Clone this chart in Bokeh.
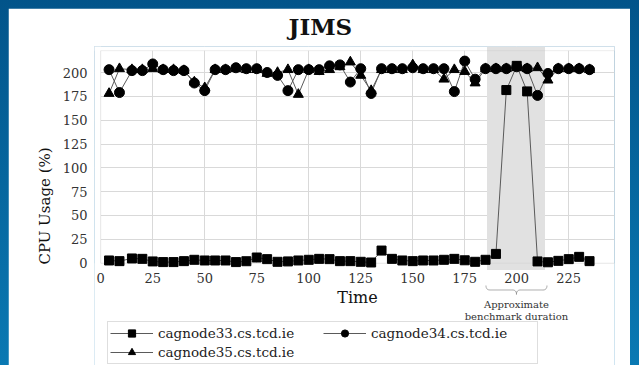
from bokeh.plotting import figure
from bokeh.models import (BoxAnnotation, Legend, LegendItem, Label, PolyAnnotation,
                          Range1d, FixedTicker, LinearAxis, Grid)
from bokeh.embed import file_html
from bokeh.resources import INLINE

# ---------------- data ----------------
time = [4, 9, 15, 20, 25, 30, 35, 40, 45, 50,
        55, 60, 65, 70, 75, 80, 85, 90, 95, 100,
        105, 110, 115, 120, 125, 130, 135, 140, 145, 150,
        155, 160, 165, 170, 175, 180, 185, 190, 195, 200,
        205, 210, 215, 220, 225, 230, 235]

cagnode33 = [2.8, 2.1, 4.9, 4.5, 1.8, 1.1, 1.1, 2.1, 3.5, 2.8,
             2.8, 2.8, 1.1, 2.0, 5.9, 4.2, 1.4, 1.8, 2.8, 3.5,
             4.5, 4.2, 2.1, 2.1, 1.4, 0.7, 13.2, 4.5, 2.8, 2.1,
             2.8, 2.8, 3.5, 4.5, 3.0, 1.4, 3.5, 9.7, 181.6, 207,
             180.2, 1.8, 0.9, 2.4, 4.2, 6.6, 2.1]

cagnode34 = [203, 179, 202, 202, 209, 203, 202, 202, 189, 181,
             203, 203, 205, 204, 204, 200, 197, 181, 203, 203,
             203, 207, 208, 190, 204, 178, 204, 204, 204, 205,
             204, 204, 204, 180, 212, 193, 204, 204, 204, 206,
             204, 176, 199, 204, 204, 204, 203]

cagnode35 = [178, 204, 203, 203, 204, 203, 203, 202, 190, 184,
             203, 203, 204, 203, 203, 199, 200, 203, 177, 203,
             201, 203, 206, 211, 197, 181, 203, 203, 203, 208,
             203, 203, 193, 203, 201, 189, 204, 204, 204, 205,
             204, 205, 192, 204, 204, 204, 203]

series_names = ["cagnode33.cs.tcd.ie", "cagnode34.cs.tcd.ie", "cagnode35.cs.tcd.ie"]
x_ticks = [0, 25, 50, 75, 100, 125, 150, 175, 200, 225]
y_ticks = [0, 25, 50, 75, 100, 125, 150, 175, 200]
benchmark_start = 185.7
benchmark_end = 213.6
annotation_lines = ["Approximate", "benchmark duration"]
chart_title = "JIMS"

# ---------------- figure ----------------
FONT = "DejaVu Serif"
X_MIN, X_MAX = -3.0, 247.0
Y_TOP = 222.9      # top edge of the drawn plot box
PX_X = 2.08        # pixels per time unit
PX_Y = 0.962       # pixels per CPU unit

p = figure(width=622, height=357, output_backend="svg", toolbar_location=None,
           x_range=Range1d(X_MIN, X_MAX), y_range=Range1d(-107.4, 227.3),
           x_axis_location=None,
           min_border_left=86, min_border_right=16,
           min_border_top=35, min_border_bottom=0,
           background_fill_color="white", border_fill_color="white")
p.outline_line_color = None

p.title.text = chart_title
p.title.align = "left"
p.title.vertical_align = "top"
p.title.offset = 194
p.title.text_font = FONT
p.title.text_font_size = "23px"
p.title.text_font_style = "bold"
p.title.text_color = "#111111"
p.title.standoff = 9

# x axis sits on the zero line, inside the (extended) frame
xaxis = LinearAxis(fixed_location=0, ticker=FixedTicker(ticks=x_ticks),
                   bounds=(0, X_MAX), axis_label="Time")
p.add_layout(xaxis, "below")
yaxis = p.yaxis[0]
yaxis.ticker = FixedTicker(ticks=y_ticks)
yaxis.bounds = (0, Y_TOP)
yaxis.axis_label = "CPU Usage (%)"

for ax in (xaxis, yaxis):
    ax.axis_line_color = None
    ax.major_tick_line_color = None
    ax.minor_tick_line_color = None
    ax.major_label_text_font = FONT
    ax.major_label_text_font_size = "13px"
    ax.major_label_text_color = "#333333"
    ax.axis_label_text_font = FONT
    ax.axis_label_text_font_style = "normal"
    ax.axis_label_text_color = "#111111"

xaxis.axis_label_text_font_size = "16px"
xaxis.major_label_standoff = 4
xaxis.axis_label_standoff = 1
yaxis.axis_label_text_font_size = "15px"
yaxis.major_label_standoff = 1
yaxis.axis_label_standoff = 6

p.ygrid.ticker = FixedTicker(ticks=y_ticks)
p.ygrid.grid_line_color = "#d9d9d9"
xgrid = Grid(dimension=0, ticker=FixedTicker(ticks=x_ticks), grid_line_color="#d9d9d9")
p.add_layout(xgrid)

# white masks so grid lines stay inside the plot box
p.add_layout(BoxAnnotation(top=0, fill_color="white", fill_alpha=1, line_color=None, level="underlay"))
p.add_layout(BoxAnnotation(bottom=Y_TOP, fill_color="white", fill_alpha=1, line_color=None, level="underlay"))
p.add_layout(BoxAnnotation(right=0.0, fill_color="white", fill_alpha=1, line_color=None, level="underlay"))
# benchmark band
p.add_layout(BoxAnnotation(left=benchmark_start, right=benchmark_end, bottom=-7.3,
                           fill_color="#e1e1e1", fill_alpha=1, line_color=None, level="underlay"))
# plot box outline
p.add_layout(BoxAnnotation(left=0.0, bottom=0, top=Y_TOP, fill_color=None, fill_alpha=0,
                           line_color="#c4c4c4", line_width=1, level="underlay"))

LINE_C = "#5a5a5a"
l33 = p.line(time, cagnode33, line_color=LINE_C, line_width=1)
l34 = p.line(time, cagnode34, line_color=LINE_C, line_width=1)
l35 = p.line(time, cagnode35, line_color=LINE_C, line_width=1)
s35 = p.scatter(time, cagnode35, marker="triangle", size=10, color="black")
s34 = p.scatter(time, cagnode34, marker="circle", size=10, color="black")
s33 = p.scatter(time, cagnode33, marker="square", size=9, color="black")

legend = Legend(items=[LegendItem(label=series_names[0], renderers=[l33, s33]),
                       LegendItem(label=series_names[1], renderers=[l34, s34]),
                       LegendItem(label=series_names[2], renderers=[l35, s35])],
                orientation="horizontal", ncols=2, location=(13, 1),
                glyph_width=43, glyph_height=18, label_height=18, label_width=164,
                label_standoff=5, spacing=1, padding=2, margin=0,
                label_text_font=FONT, label_text_font_size="13.5px", label_text_color="#222222",
                border_line_color="#bdbdbd", border_line_width=1,
                background_fill_color="white", background_fill_alpha=1)
p.add_layout(legend)

# curly brace under the band
bx0 = benchmark_start - 0.5
bw, bh = 61.0, 9.0
def quad(p0, c, p1, n=8):
    pts = []
    for i in range(n + 1):
        t = i / n
        pts.append(((1-t)**2*p0[0] + 2*(1-t)*t*c[0] + t*t*p1[0],
                    (1-t)**2*p0[1] + 2*(1-t)*t*c[1] + t*t*p1[1]))
    return pts
half = bh / 2
mid = bw / 2
path = (quad((0, 0), (0, half), (4, half)) +
        quad((mid - 4, half), (mid, half), (mid, bh)) +
        quad((mid, bh), (mid, half), (mid + 4, half)) +
        quad((bw - 4, half), (bw, half), (bw, 0)))
top_px = 22.6  # pixels below the zero line
xs = [bx0 + px / PX_X for px, py in path]
ys = [-(top_px + py) / PX_Y for px, py in path]
xs = xs + xs[::-1]
ys = ys + ys[::-1]
p.add_layout(PolyAnnotation(xs=xs, ys=ys, fill_color=None, fill_alpha=0,
                            line_color="#6e6e6e", line_width=1))

bc = bx0 + mid / PX_X
for txt, off in zip(annotation_lines, [42.0, 53.5]):
    p.add_layout(Label(x=bc, y=-off / PX_Y, text=txt, text_align="center",
                       text_baseline="middle", text_font=FONT, text_font_size="10px",
                       text_color="#333333"))

html = file_html(p, INLINE)
html = html.replace("</head>",
                    "<style>html{background:linear-gradient(to bottom,#02548a,#0a79b3) !important;"
                    "min-height:100%;}"
                    "body{background:transparent !important;padding:8px 0 0 8px !important;"
                    "margin:0 !important;box-sizing:border-box !important;}</style></head>", 1)
open("out.html", "w").write(html)
